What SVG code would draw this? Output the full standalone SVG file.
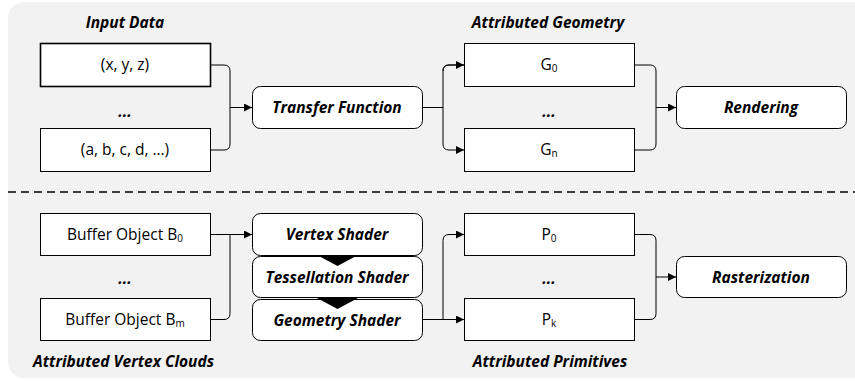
<svg xmlns="http://www.w3.org/2000/svg" width="855" height="381" viewBox="0 0 855 381">
<defs>
<marker id="arr" viewBox="0 0 10 10" refX="10" refY="5" markerWidth="8" markerHeight="8" markerUnits="userSpaceOnUse" orient="auto"><path d="M0,0 L10,5 L0,10 z" fill="#000"/></marker>
</defs>
<style>
.bg{fill:#f2f2f2}
.box{fill:#fff;stroke:#000;stroke-width:1}
.rbox{fill:#fff;stroke:#000;stroke-width:1}
.t{font-family:"Open Sans",Lato,sans-serif;font-size:15.5px;text-anchor:middle;fill:#000}
.bi{font-family:"Open Sans",Lato,sans-serif;font-size:15.5px;font-weight:bold;font-style:italic;text-anchor:middle;fill:#000}
.sub{font-size:10px}
.c{fill:none;stroke:#000;stroke-width:1}
.dash{stroke:#000;stroke-width:1.5;stroke-dasharray:8,5}
</style>
<rect class="bg" x="8" y="2" width="880" height="376" rx="16"/>
<line class="dash" x1="8" y1="192" x2="855" y2="192"/>

<text class="bi" x="125" y="28">Input Data</text>
<text class="bi" x="548" y="28">Attributed Geometry</text>
<text class="bi" x="33" y="367" style="text-anchor:start">Attributed Vertex Clouds</text>
<text class="bi" x="550" y="367">Attributed Primitives</text>

<g id="in1"><rect class="box" x="40.5" y="43.5" width="170" height="43" style="stroke-width:1.6"/><text class="t" x="125" y="70">(x, y, z)</text></g>
<g id="indots"><text class="bi" x="125" y="117">...</text></g>
<g id="in2"><rect class="box" x="40.5" y="128.5" width="170" height="43"/><text class="t" x="125" y="155">(a, b, c, d, …)</text></g>
<g id="tf"><rect class="rbox" x="252.5" y="86.5" width="170" height="42" rx="8"/><text class="bi" x="337" y="113">Transfer Function</text></g>
<g id="g0"><rect class="box" x="464.5" y="43.5" width="170" height="43"/><text class="t" x="549" y="70">G<tspan class="sub" dy="2">0</tspan></text></g>
<g id="gdots"><text class="bi" x="549" y="117">...</text></g>
<g id="gn"><rect class="box" x="464.5" y="128.5" width="170" height="43"/><text class="t" x="549" y="155">G<tspan class="sub" dy="2">n</tspan></text></g>
<g id="render"><rect class="rbox" x="676.5" y="86.5" width="170" height="42" rx="8"/><text class="bi" x="761" y="113">Rendering</text></g>

<g id="b0"><rect class="box" x="40.5" y="213.5" width="170" height="42"/><text class="t" x="125" y="240">Buffer Object B<tspan class="sub" dy="2">0</tspan></text></g>
<g id="bdots"><text class="bi" x="125" y="284">...</text></g>
<g id="bm"><rect class="box" x="40.5" y="298.5" width="170" height="42"/><text class="t" x="125" y="325">Buffer Object B<tspan class="sub" dy="2">m</tspan></text></g>
<g id="vs"><rect class="rbox" x="252.5" y="213.5" width="170" height="42" rx="8"/><text class="bi" x="337" y="240">Vertex Shader</text></g>
<g id="ts"><rect class="rbox" x="252.5" y="256.5" width="170" height="41" rx="8"/><text class="bi" x="337" y="283">Tessellation Shader</text></g>
<g id="gs"><rect class="rbox" x="252.5" y="299.5" width="170" height="41" rx="8"/><text class="bi" x="337" y="326">Geometry Shader</text></g>
<g id="p0"><rect class="box" x="464.5" y="213.5" width="170" height="42"/><text class="t" x="549" y="240">P<tspan class="sub" dy="2">0</tspan></text></g>
<g id="pdots"><text class="bi" x="549" y="284">...</text></g>
<g id="pk"><rect class="box" x="464.5" y="298.5" width="170" height="42"/><text class="t" x="549" y="325">P<tspan class="sub" dy="2">k</tspan></text></g>
<g id="rast"><rect class="rbox" x="676.5" y="256.5" width="170" height="41" rx="8"/><text class="bi" x="761" y="283">Rasterization</text></g>

<g id="connectors">
<path class="c" d="M210.5,65 H224 Q230,65 230,71 V144 Q230,150 224,150 H210.5"/>
<path class="c" d="M230,107.5 H252" marker-end="url(#arr)"/>
<path class="c" d="M422.5,107.5 H443"/>
<path class="c" d="M464,65 H449 Q443,65 443,71 V144 Q443,150 449,150 H464" marker-end="url(#arr)"/>
<path class="c" d="M443,71 Q443,65 449,65 H464" marker-end="url(#arr)"/>
<path class="c" d="M634.5,65 H650 Q656,65 656,71 V144 Q656,150 650,150 H634.5"/>
<path class="c" d="M656,107.5 H676" marker-end="url(#arr)"/>

<path class="c" d="M210.5,234.5 H252" marker-end="url(#arr)"/>
<path class="c" d="M210.5,319.5 H224 Q230,319.5 230,313.5 V234.5"/>
<path class="c" d="M422.5,319.5 H464" marker-end="url(#arr)"/>
<path class="c" d="M443,319.5 V240.5 Q443,234.5 449,234.5 H464" marker-end="url(#arr)"/>
<path class="c" d="M634.5,234.5 H650 Q656,234.5 656,240.5 V313.5 Q656,319.5 650,319.5 H634.5"/>
<path class="c" d="M656,277 H676" marker-end="url(#arr)"/>
<path d="M317,255 H358 L337.5,266 z" fill="#000"/>
<path d="M317,298 H358 L337.5,309 z" fill="#000"/>
</g>
</svg>
